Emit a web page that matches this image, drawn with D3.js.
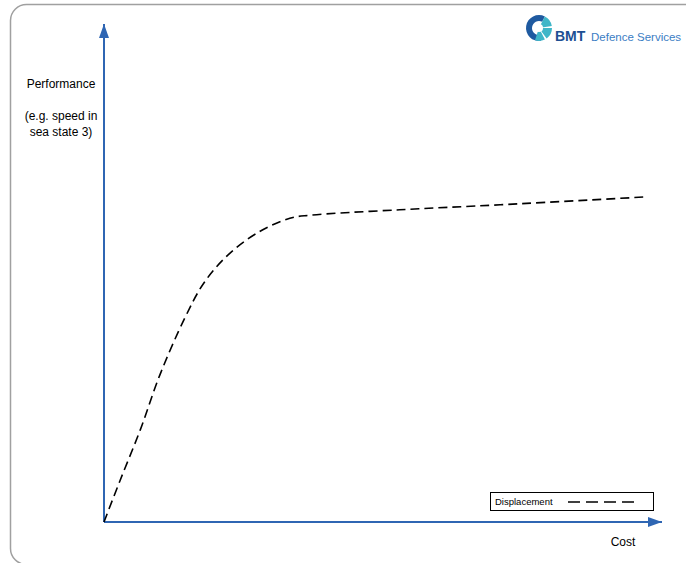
<!DOCTYPE html>
<html>
<head>
<meta charset="utf-8">
<script src="https://cdn.jsdelivr.net/npm/d3@7"></script>
<style>
  html, body { margin: 0; padding: 0; background: #fff; }
  svg { display: block; font-family: "Liberation Sans", Arial, sans-serif; }
</style>
</head>
<body>
<svg id="chart" width="686" height="563"></svg>
<script>
// Cost (x) and performance (y) on a relative 0-100 scale
const costValues = [0, 2.9, 6.5, 10.0, 14.5, 17.9, 22.2, 27.4, 33.3, 36.9, 53.0, 71.0, 97.5];
const performanceValues = [0, 8.4, 18.5, 29.5, 41.0, 48.0, 53.6, 58.0, 61.0, 61.6, 62.7, 63.7, 65.3];
const seriesName = "Displacement";
const yAxisTitle = ["Performance", "", "(e.g. speed in", "sea state 3)"];
const xAxisTitle = "Cost";

const svg = d3.select("#chart");
const axisColor = "#2f66b3";

// Rounded frame around the whole slide
svg.append("rect")
  .attr("x", 10.5).attr("y", 4.5)
  .attr("width", 700).attr("height", 560)
  .attr("rx", 16).attr("ry", 16)
  .attr("fill", "none").attr("stroke", "#a0a0a0").attr("stroke-width", 1.5);

const x = d3.scaleLinear().domain([0, 100]).range([104, 662]);
const y = d3.scaleLinear().domain([0, 100]).range([522, 24]);

// Arrow markers
const defs = svg.append("defs");
defs.append("marker")
  .attr("id", "arrow")
  .attr("viewBox", "0 0 14 10")
  .attr("refX", 14).attr("refY", 5)
  .attr("markerWidth", 14).attr("markerHeight", 10)
  .attr("markerUnits", "userSpaceOnUse")
  .attr("orient", "auto")
  .append("path").attr("d", "M0,0 L14,5 L0,10 Z").attr("fill", axisColor);

// Axes
svg.append("line")
  .attr("x1", x(0)).attr("y1", y(0)).attr("x2", x(0)).attr("y2", y(100))
  .attr("stroke", axisColor).attr("stroke-width", 2).attr("marker-end", "url(#arrow)");
svg.append("line")
  .attr("x1", x(0)).attr("y1", y(0)).attr("x2", x(100)).attr("y2", y(0))
  .attr("stroke", axisColor).attr("stroke-width", 2).attr("marker-end", "url(#arrow)");

// Performance curve
const pts = costValues.map((c, i) => [c, performanceValues[i]]);
const line = d3.line().x(d => x(d[0])).y(d => y(d[1])).curve(d3.curveCatmullRom.alpha(0.5));
svg.append("path")
  .datum(pts)
  .attr("d", line)
  .attr("fill", "none").attr("stroke", "#000").attr("stroke-width", 1.6)
  .attr("stroke-dasharray", "9,5");

// Axis titles
const yt = svg.append("text").attr("text-anchor", "middle").attr("font-size", 12).attr("fill", "#000");
yAxisTitle.forEach((t, i) => {
  yt.append("tspan").attr("x", 61).attr("y", 88 + i * 16).text(t);
});
svg.append("text").attr("x", 623).attr("y", 546).attr("text-anchor", "middle")
  .attr("font-size", 12).attr("fill", "#000").text(xAxisTitle);

// Legend
const lg = svg.append("g").attr("transform", "translate(490,492)");
lg.append("rect").attr("x", 0.5).attr("y", 0.5).attr("width", 163).attr("height", 18)
  .attr("fill", "#fff").attr("stroke", "#000").attr("stroke-width", 1);
lg.append("text").attr("x", 5).attr("y", 13).attr("font-size", 9.5).attr("fill", "#000").text(seriesName);
lg.append("line").attr("x1", 78).attr("x2", 146).attr("y1", 10).attr("y2", 10)
  .attr("stroke", "#000").attr("stroke-width", 1.6).attr("stroke-dasharray", "12,6");

// Company logo
const logo = svg.append("g").attr("transform", "translate(539,28)");
const arc = d3.arc();
logo.append("path").attr("d", arc({innerRadius: 7, outerRadius: 13, startAngle: Math.PI * 0.95, endAngle: Math.PI * 2.15}))
  .attr("fill", "#1f5aa0");
[[0.15, 0.45], [0.5, 0.8], [0.85, 1.1]].forEach(([a0, a1]) => {
  logo.append("path").attr("d", arc({innerRadius: 3, outerRadius: 13, startAngle: Math.PI * a0, endAngle: Math.PI * a1}))
    .attr("fill", "#3fb6c8");
});
logo.append("circle").attr("r", 4).attr("fill", "#fff");
svg.append("text").attr("x", 555).attr("y", 41).attr("font-size", 14).attr("font-weight", "bold")
  .attr("fill", "#1d4f93").text("BMT");
svg.append("text").attr("x", 591).attr("y", 41).attr("font-size", 11.5)
  .attr("fill", "#3b7dc4").text("Defence Services");
</script>
</body>
</html>
